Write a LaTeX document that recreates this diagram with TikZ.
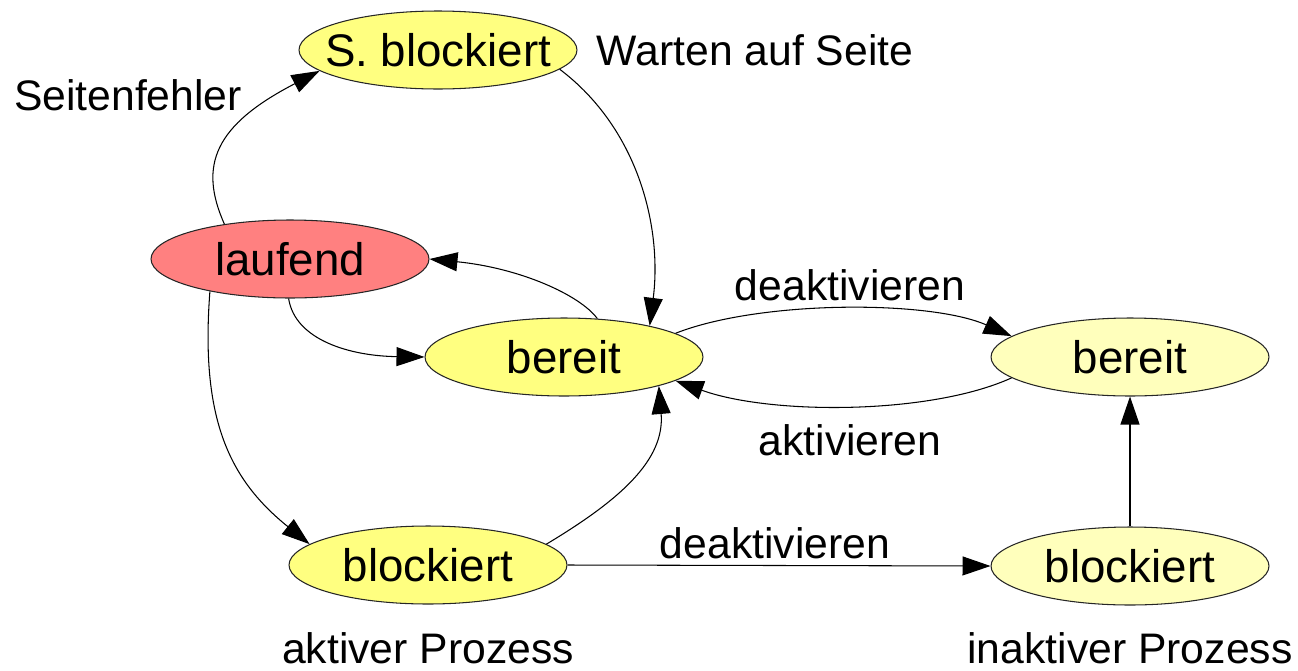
\documentclass[tikz,border=0pt]{standalone}
\usepackage{fontspec}
\setmainfont{Liberation Sans}
\usetikzlibrary{shapes.geometric,arrows.meta}

\definecolor{aktivgelb}{RGB}{255,255,128}
\definecolor{inaktivgelb}{RGB}{255,255,188}
\definecolor{laufrot}{RGB}{255,128,128}

\tikzset{zustand/.style={ellipse, draw=black!85, line width=0.6pt, inner sep=0pt,
    minimum width=5.56cm, minimum height=1.56cm, font=\fontsize{26}{30}\selectfont},
  beschr/.style={font=\fontsize{24.3}{28}\selectfont}}

\begin{document}
\begin{tikzpicture}[x=0.02cm, y=-0.02cm, >={Triangle[length=5.6mm,width=3.8mm]}, line width=0.6pt]

\useasboundingbox (0,0) rectangle (1298,670);

% Zustaende
\node[zustand, fill=aktivgelb] (sblk) at (438,50) {\makebox[0pt]{S. blockiert}};
\node[zustand, fill=laufrot] (lauf) at (290,259) {laufend};
\node[zustand, fill=aktivgelb] (ber) at (564,357) {bereit};
\node[zustand, fill=aktivgelb] (blk) at (428,565) {blockiert};
\node[zustand, fill=inaktivgelb] (berI) at (1130,357) {bereit};
\node[zustand, fill=inaktivgelb] (blkI) at (1130,566) {blockiert};

% Beschriftungen
\node[beschr] (seitenf) at (128,95) {Seitenfehler};
\node[beschr] (warten) at (755,50) {Warten auf Seite};
\node[beschr] (deakt1) at (850,285) {deaktivieren};
\node[beschr] (akt) at (850,440) {aktivieren};
\node[beschr] (deakt2) at (775,543) {deaktivieren};
\node[beschr] (aktP) at (428,648) {aktiver Prozess};
\node[beschr] (inaktP) at (1130,648) {inaktiver Prozess};

% Uebergaenge
\draw[->] (lauf.152) .. controls (198,165) and (215,125) .. (sblk.190);
\draw[->] (sblk.-9) .. controls (640,130) and (662,230) .. (ber.20);
\draw[->] (ber.49) .. controls (580,295) and (520,268) .. (lauf.0);
\draw[->] (lauf.268) .. controls (295,340) and (350,356) .. (ber.180);
\draw[->] (lauf.202) .. controls (200,420) and (230,480) .. (blk.170);
\draw[->] (blk.10) .. controls (620,500) and (665,460) .. (ber.-17);
\draw[->] (ber.12) .. controls (760,300) and (930,300) .. (berI.170);
\draw[->] (berI.190) .. controls (930,415) and (770,415) .. (ber.-12);
\draw[->] (blk.east) -- (blkI.west);
\draw[->] (blkI.north) -- (berI.south);

\end{tikzpicture}
\end{document}
